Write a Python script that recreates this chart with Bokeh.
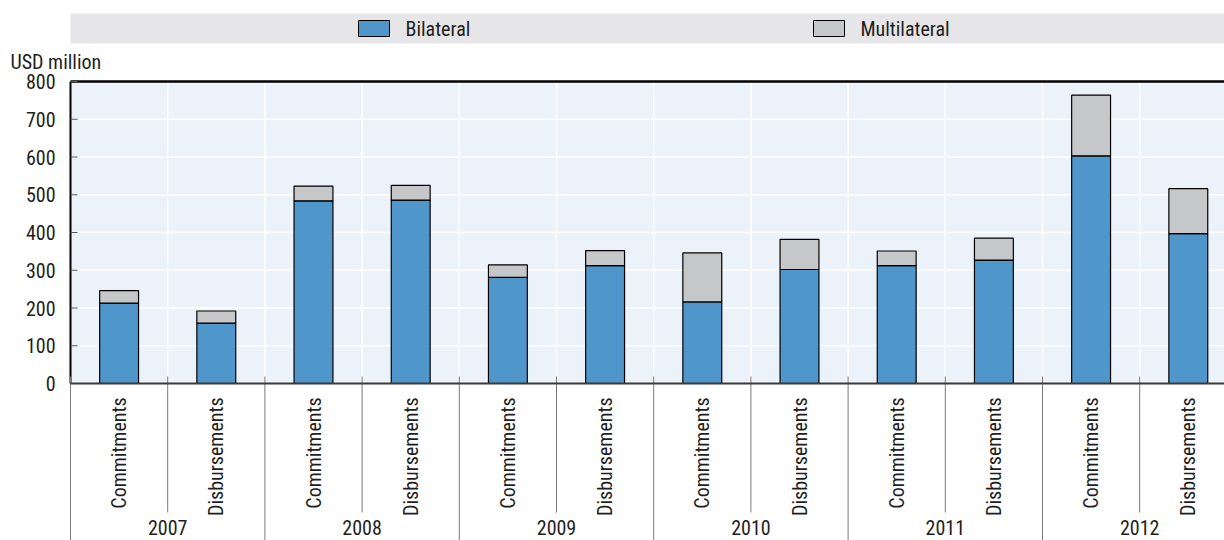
from bokeh.plotting import figure
from bokeh.models import ColumnDataSource, Range1d
from bokeh.embed import file_html
from bokeh.resources import INLINE
from bokeh.core.properties import value

# ---------------- data ----------------
years = ["2007", "2008", "2009", "2010", "2011", "2012"]
measures = ["Commitments", "Disbursements"]
series_names = ["Bilateral", "Multilateral"]
bilateral = [213, 160, 484, 486, 281, 312, 216, 302, 312, 327, 603, 397]
multilateral = [33, 32, 39, 39, 33, 40, 130, 80, 39, 58, 161, 119]
y_ticks = [0, 100, 200, 300, 400, 500, 600, 700, 800]
y_unit = "USD million"

# ---------------- style / layout (page pixels) ----------------
FONT = "Roboto Condensed, DejaVu Sans Condensed, Liberation Sans Narrow, Roboto, sans-serif"
FS = "20px"
TXT = "#1e1e1e"
BLUE = "#4F96CB"
GREY = "#C6C7C9"
BG = "#EBF2FA"
BAND = "#E6E6E8"
SEP = "#7a7a7a"

W, H = 1224, 540
X0, Y0 = 70.0, 383.0        # page position of data origin
YTOP = 81.0                 # page y of the axis maximum
SLOT = 97.2                 # px per category slot
YMAX = y_ticks[-1]
PPU = (Y0 - YTOP) / YMAX    # px per unit


def dx(px):
    return (px - X0) / SLOT


def dy(py):
    return (Y0 - py) / PPU


n = len(years) * len(measures)
xs = [i + 0.5 for i in range(n)]
src = ColumnDataSource(dict(x=xs, Bilateral=bilateral, Multilateral=multilateral))

p = figure(width=W, height=H, x_range=Range1d(dx(0), dx(W)), y_range=Range1d(dy(H), dy(0)),
           x_axis_type=None, y_axis_type=None, toolbar_location=None, tools="",
           output_backend="svg", min_border=0, outline_line_color=None,
           background_fill_color="white", border_fill_color="white")
p.grid.visible = False

txt_kw = dict(text_font=value(FONT), text_font_size=value(FS), text_color=TXT)

# legend strip
p.quad(left=[dx(X0)], right=[dx(W)], top=[dy(13)], bottom=[dy(43)], fill_color=BAND,
       line_color=None)
p.quad(left=[dx(358), dx(813)], right=[dx(389), dx(844)], top=[dy(20), dy(20)],
       bottom=[dy(36), dy(36)], fill_color=[BLUE, GREY], line_color="black", line_width=1)
p.text(x=[dx(405), dx(860)], y=[dy(28), dy(28)], text=series_names, text_baseline="middle",
       **txt_kw)
p.text(x=[dx(10)], y=[dy(61.5)], text=[y_unit], text_baseline="middle", **txt_kw)

# plot area background and grid
p.quad(left=[0], right=[n], bottom=[0], top=[YMAX], fill_color=BG, line_color=None)
p.segment(x0=[0] * len(y_ticks), x1=[n] * len(y_ticks), y0=y_ticks, y1=y_ticks,
          line_color="white", line_width=1.5)
inner = list(range(1, n))
p.segment(x0=inner, x1=inner, y0=[0] * len(inner), y1=[YMAX] * len(inner),
          line_color="white", line_width=1.5)

# bars
p.vbar_stack(series_names, x="x", width=0.4, color=[BLUE, GREY], line_color="black",
             line_width=1.2, source=src)

# axes lines
p.segment(x0=[0], x1=[n], y0=[YMAX], y1=[YMAX], line_color="black", line_width=2.5)
p.segment(x0=[0], x1=[0], y0=[0], y1=[YMAX], line_color="black", line_width=2)

# y ticks + labels
p.segment(x0=[0] * len(y_ticks), x1=[7 / SLOT] * len(y_ticks), y0=y_ticks, y1=y_ticks,
          line_color="#555555", line_width=1)
p.text(x=[dx(55)] * len(y_ticks), y=y_ticks, text=[str(t) for t in y_ticks],
       text_align="right", text_baseline="middle", **txt_kw)

# x separators
bounds = list(range(n + 1))
year_b = bounds[::2]
mid_b = bounds[1::2]
p.segment(x0=mid_b, x1=mid_b, y0=[7 / PPU] * len(mid_b), y1=[dy(512)] * len(mid_b),
          line_color=SEP, line_width=1)
p.segment(x0=year_b, x1=year_b, y0=[7 / PPU] * len(year_b), y1=[dy(H)] * len(year_b),
          line_color=SEP, line_width=1)
p.segment(x0=[0], x1=[n], y0=[0], y1=[0], line_color="#3a3a3a", line_width=2)

# category labels
p.text(x=xs, y=[dy(397)] * n, text=[m for _ in years for m in measures], angle=90,
       angle_units="deg", text_align="right", text_baseline="middle", **txt_kw)
p.text(x=[2 * i + 1 for i in range(len(years))], y=[dy(527)] * len(years), text=years,
       text_align="center", text_baseline="middle", **txt_kw)

open("out.html", "w").write(file_html(p, INLINE))
